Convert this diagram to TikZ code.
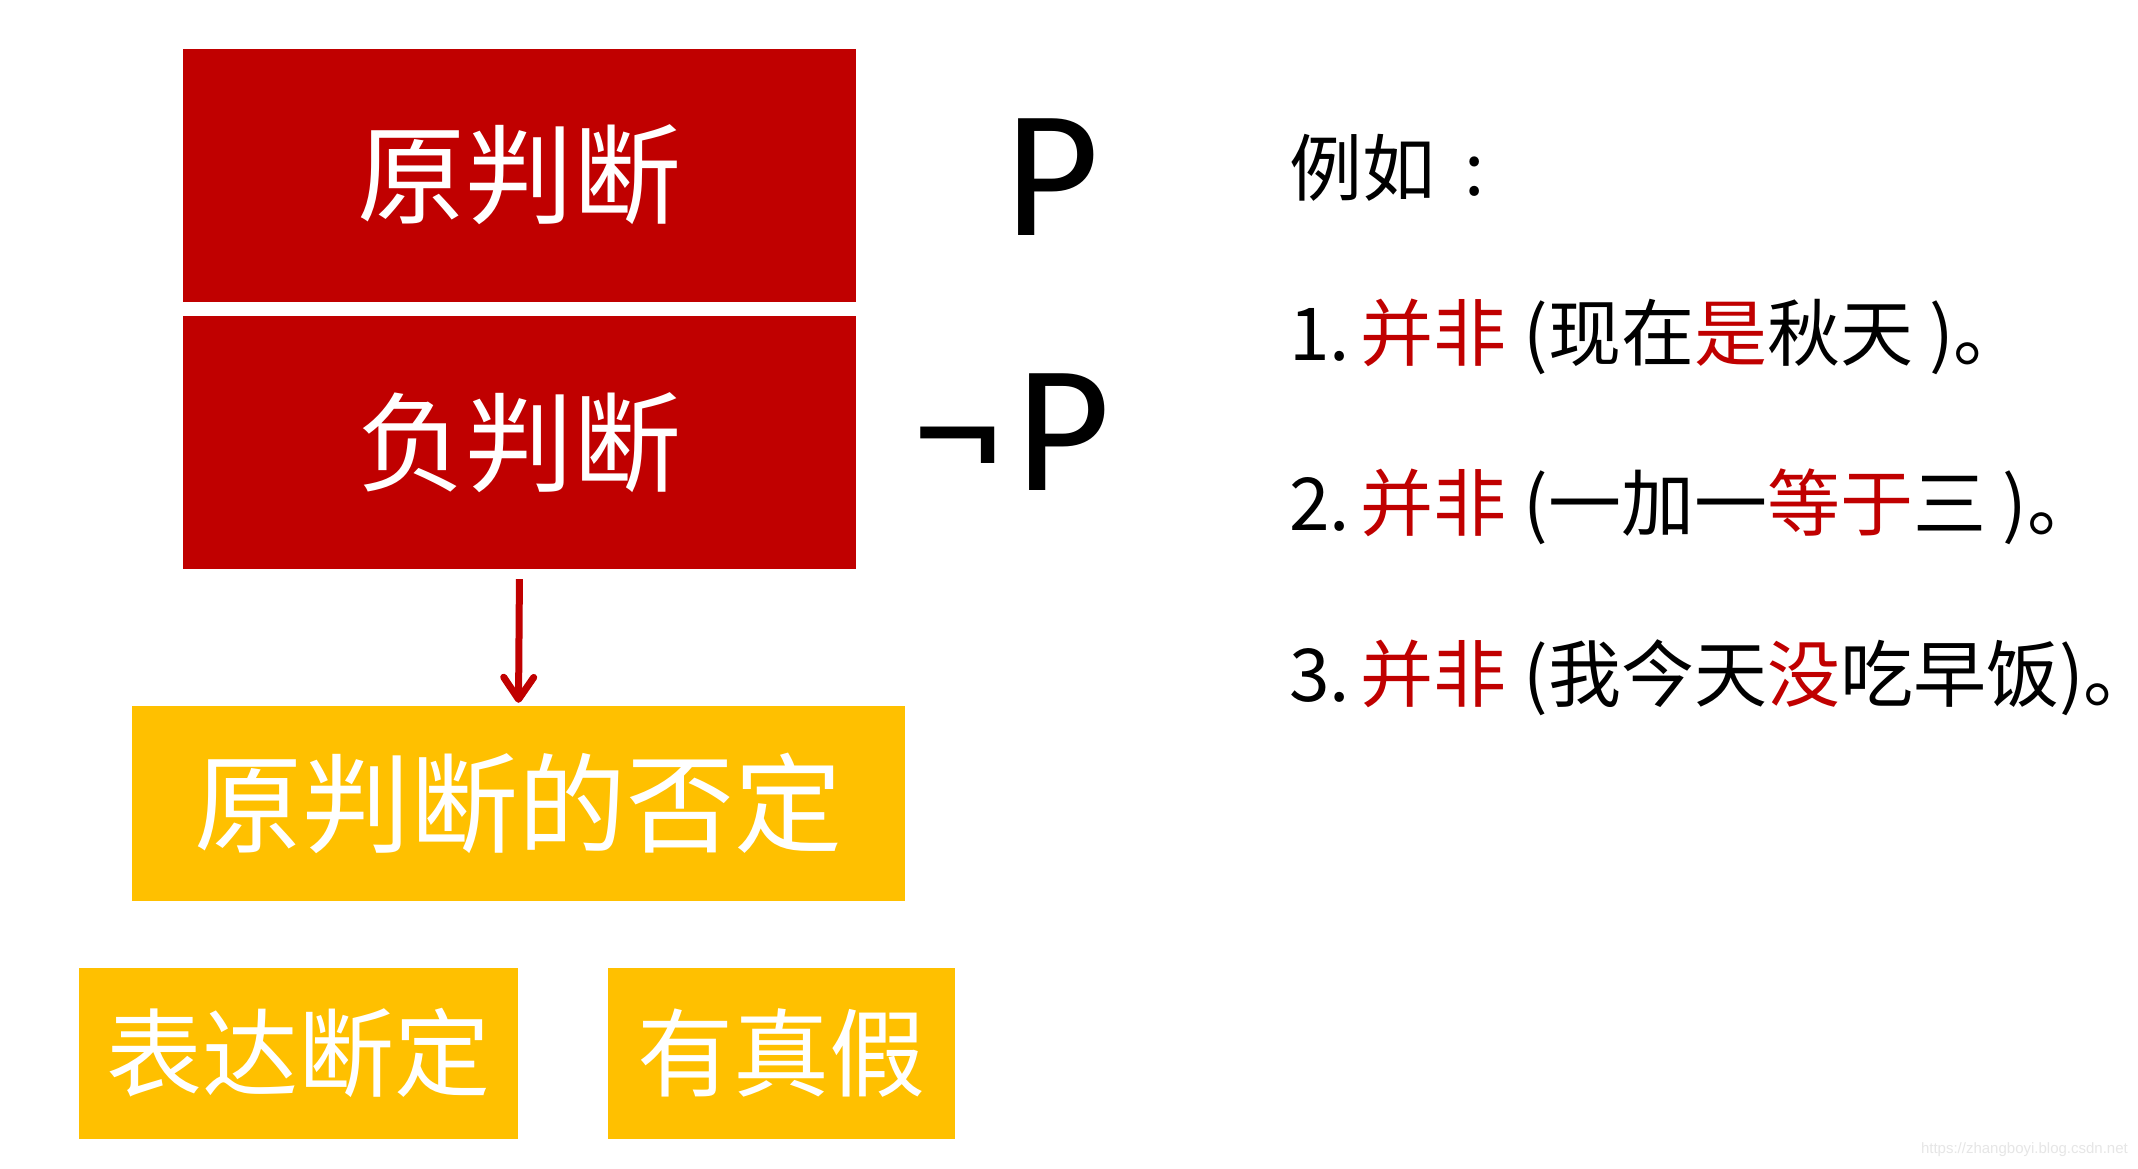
\documentclass[tikz,border=0pt]{standalone}
\usepackage{fontspec}
\setmainfont{Noto Sans CJK SC}
\newfontfamily\latinfont{Carlito}
\newfontfamily\wmfont{Liberation Sans}
\usetikzlibrary{arrows.meta}
\definecolor{boxred}{HTML}{C00000}
\definecolor{boxyellow}{HTML}{FFC000}
\definecolor{wmgray}{HTML}{E6E6E6}
\tikzset{
  redbox/.style={fill=boxred, draw=none, text=white, inner sep=0pt, font=\fontsize{108}{118}\selectfont},
  yellowbox/.style={fill=boxyellow, draw=none, text=white, inner sep=0pt},
  exline/.style={anchor=base west, inner sep=0pt, font=\fontsize{73}{80}\selectfont},
  sym/.style={anchor=base west, inner sep=0pt, font=\latinfont\fontsize{182}{190}\selectfont},
  flowarrow/.style={draw=boxred, line width=7pt, -{Straight Barb[length=22pt,width=30pt,line cap=round,line join=round]}}
}
\newcommand{\rt}[1]{\textcolor{boxred}{#1}}
\newcommand{\fullstopmk}{\makebox[0.45em][l]{。}}
\begin{document}
\begin{tikzpicture}[x=1pt,y=-1pt]
\useasboundingbox (0,0) rectangle (2138,1168);
\fill[white] (0,0) rectangle (2138,1168);
% red boxes
\node[redbox, minimum width=673pt, minimum height=253pt] (orig) at (519.5,175) {原判断};
\node[redbox, minimum width=673pt, minimum height=253pt] (neg) at (519.5,442.5) {负判断};
% yellow boxes
\node[yellowbox, minimum width=773pt, minimum height=195pt, font=\fontsize{108}{118}\selectfont] (negation) at (518.5,803.5) {原判断的否定};
\node[yellowbox, minimum width=439pt, minimum height=171pt, font=\fontsize{96}{104}\selectfont] (assert) at (298.5,1053) {表达断定};
\node[yellowbox, minimum width=347pt, minimum height=171pt, font=\fontsize{96}{104}\selectfont] (truth) at (781.5,1053) {有真假};
% arrow
\draw[flowarrow, shorten <=10pt, shorten >=3pt] (neg.south) -- (negation.north);
% symbols
\node[sym] (p) at (1005,235) {P};
\node[sym] (np) at (912,490) {¬\kern14pt P};
% examples
\node[exline] (eg) at (1289,195) {例如\kern0.4em:};
\node[exline] (ex1) at (1289,360) {1.\hspace{0.15em}\rt{并非} (现在\rt{是}秋天 )\fullstopmk};
\node[exline] (ex2) at (1289,530) {2.\hspace{0.15em}\rt{并非} (一加一\rt{等于}三 )\fullstopmk};
\node[exline] (ex3) at (1289,701) {3.\hspace{0.15em}\rt{并非} (我今天\rt{没}吃早饭)\fullstopmk};
% watermark
\node[anchor=east, inner sep=0pt, text=wmgray, font=\wmfont\fontsize{15}{17}\selectfont] (wm) at (2128,1150) {https://zhangboyi.blog.csdn.net};
\end{tikzpicture}
\end{document}
